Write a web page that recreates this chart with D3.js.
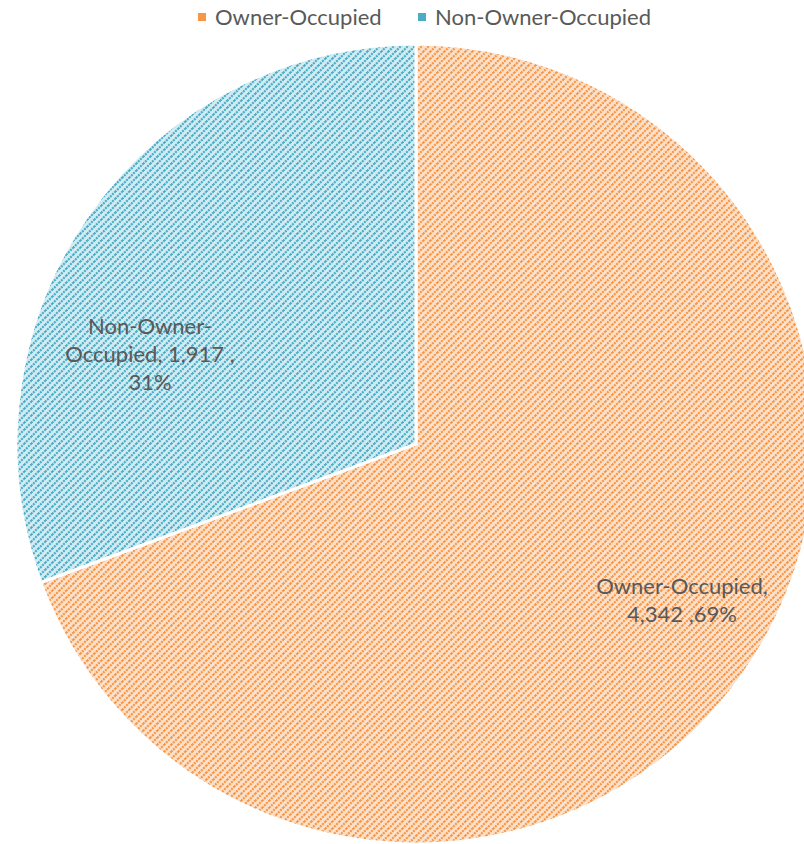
<!DOCTYPE html>
<html>
<head>
<meta charset="utf-8">
<script src="https://cdn.jsdelivr.net/npm/d3@7"></script>
<style>
  body { margin: 0; background: #fff; }
  svg { display: block; font-family: Lato, "Open Sans", sans-serif; }
</style>
</head>
<body>
<div id="pie"></div>
<script>
// chart data
const categories = ["Owner-Occupied", "Non-Owner-Occupied"];
const values = [4342, 1917];
const percents = ["69%", "31%"];
const colors = ["#f79646", "#4bacc6"];
const lightColors = ["#fde1cb", "#d2ecf3"];

const width = 804, height = 844;
const cx = 416, cy = 444, radius = 400;

const svg = d3.select("#pie")
    .append("svg")
    .attr("width", width)
    .attr("height", height);

// diagonal hatch patterns like excel's fill
const defs = svg.append("defs");
categories.forEach((c, i) => {
    const p = defs.append("pattern")
        .attr("id", "hatch" + i)
        .attr("patternUnits", "userSpaceOnUse")
        .attr("width", 7)
        .attr("height", 7);
    p.append("rect").attr("width", 7).attr("height", 7).attr("fill", lightColors[i]);
    p.append("path")
        .attr("d", "M-1,1 L1,-1 M0,7 L7,0 M6,8 L8,6")
        .attr("stroke", colors[i])
        .attr("stroke-width", 2.2)
        .attr("stroke-dasharray", "2,1");
});

const pie = d3.pie().sort(null).value(d => d);
const arcs = pie(values);
const arc = d3.arc().innerRadius(0).outerRadius(radius);

const g = svg.append("g").attr("transform", `translate(${cx},${cy})`);

g.selectAll("path")
    .data(arcs)
    .join("path")
    .attr("d", arc)
    .attr("fill", (d, i) => `url(#hatch${i})`)
    .attr("stroke", "#fff")
    .attr("stroke-width", 3);

// data labels
const fmt = d3.format(",");
const labelLines = [
    [categories[0] + ",", fmt(values[0]) + " ," + percents[0]],
    ["Non-Owner-", "Occupied,  " + fmt(values[1]) + " ,", percents[1]]
];
const labelPos = [[682, 594], [150, 334]];

labelLines.forEach((lines, i) => {
    const t = svg.append("text")
        .attr("x", labelPos[i][0])
        .attr("y", labelPos[i][1])
        .attr("text-anchor", "middle")
        .attr("font-size", 22)
        .attr("fill", "#595959");
    lines.forEach((l, j) => {
        t.append("tspan")
            .attr("x", labelPos[i][0])
            .attr("dy", j === 0 ? 0 : 28)
            .text(l);
    });
});

// legend
const legendX = [198, 418];
const legend = svg.selectAll(".legend")
    .data(categories)
    .join("g")
    .attr("class", "legend")
    .attr("transform", (d, i) => `translate(${legendX[i]},13)`);

legend.append("rect")
    .attr("width", 8)
    .attr("height", 8)
    .attr("fill", (d, i) => colors[i]);

legend.append("text")
    .attr("x", 17)
    .attr("y", 4)
    .attr("dy", ".35em")
    .attr("font-size", 22)
    .attr("fill", "#595959")
    .text(d => d);
</script>
</body>
</html>
